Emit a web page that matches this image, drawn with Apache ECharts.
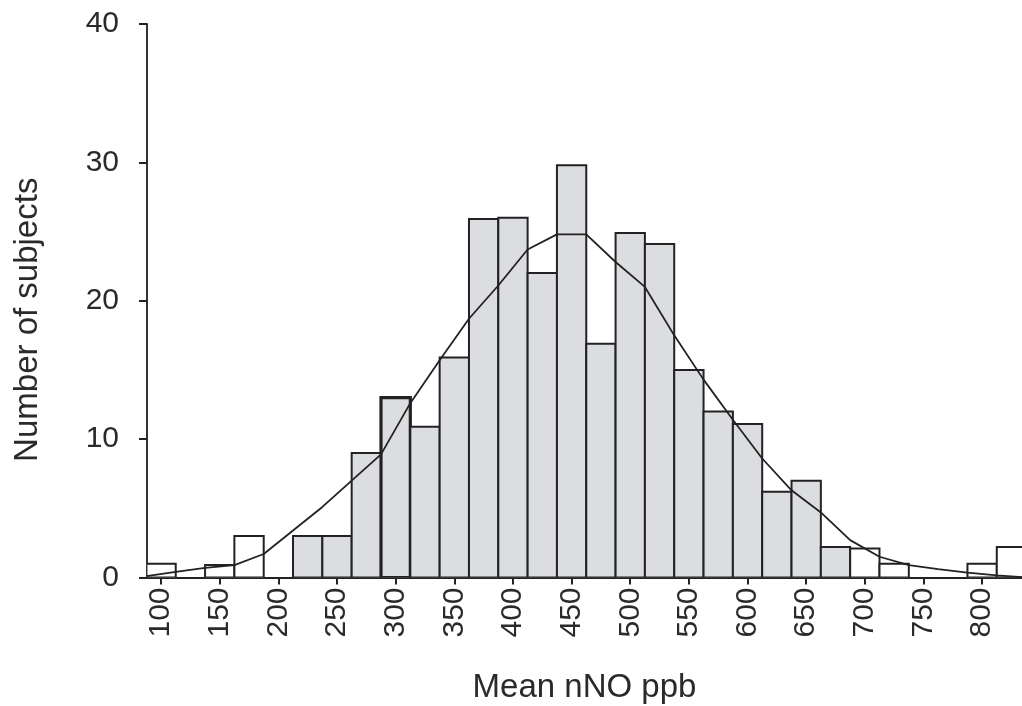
<!DOCTYPE html>
<html>
<head>
<meta charset="utf-8">
<script src="https://cdn.jsdelivr.net/npm/echarts@6/dist/echarts.min.js"></script>
<style>
  html, body { margin: 0; padding: 0; background: #fff; }
  #chart { width: 1022px; height: 706px; }
</style>
</head>
<body>
<div id="chart"></div>
<script>
// Histogram of mean nasal NO with a fitted distribution curve
const binWidth = 25;
const binCenters = [100, 125, 150, 175, 200, 225, 250, 275, 300, 325, 350, 375, 400, 425, 450,
                    475, 500, 525, 550, 575, 600, 625, 650, 675, 700, 725, 750, 775, 800, 825];
const subjectCounts = [1.0, 0, 0.9, 3.0, 0, 3.0, 3.0, 9.0, 13.0, 10.9, 15.9, 25.9, 26.0, 22.0, 29.8,
                       16.9, 24.9, 24.1, 15.0, 12.0, 11.1, 6.2, 7.0, 2.2, 2.1, 1.0, 0, 0, 1.0, 2.2];

// Fitted curve, sampled at the bin edges
const curveX = [87.5, 112.5, 137.5, 162.5, 187.5, 212.5, 237.5, 262.5, 287.5, 312.5, 337.5, 362.5,
                387.5, 412.5, 437.5, 462.5, 487.5, 512.5, 537.5, 562.5, 587.5, 612.5, 637.5, 662.5,
                687.5, 712.5, 737.5, 762.5, 787.5, 812.5, 837.5];
const curveY = [0.1, 0.4, 0.7, 0.9, 1.7, 3.4, 5.1, 7.0, 8.9, 12.6, 15.7, 18.7,
                21.1, 23.7, 24.8, 24.8, 22.8, 21.0, 17.5, 14.3, 11.4, 8.6, 6.3, 4.7,
                2.7, 1.5, 0.9, 0.6, 0.35, 0.15, 0.0];

const xTickValues = [100, 150, 200, 250, 300, 350, 400, 450, 500, 550, 600, 650, 700, 750, 800];
const yTickValues = [0, 10, 20, 30, 40];

// Bins drawn grey lie inside this range; the rest are left white
const shadedRange = [212.5, 687.5];
const emphasisedBin = 300;

const FONT = "'Liberation Sans', Arial, Helvetica, sans-serif";
const INK = '#222';
const TEXT = '#2a2a2a';

const chart = echarts.init(document.getElementById('chart'), null, { renderer: 'canvas' });

chart.setOption({
  backgroundColor: '#fff',
  animation: false,
  grid: { left: 147, right: 0, top: 24, bottom: 128.5, containLabel: false, outerBoundsMode: 'none' },
  xAxis: {
    type: 'value',
    min: 88,
    max: 834,
    name: 'Mean nNO ppb',
    nameLocation: 'middle',
    nameGap: 94,
    nameTextStyle: { fontFamily: FONT, fontSize: 33, color: TEXT },
    axisLine: { show: true, onZero: false, lineStyle: { color: INK, width: 2 } },
    axisTick: { show: true, length: 7, customValues: xTickValues, lineStyle: { color: INK, width: 2 } },
    axisLabel: {
      customValues: xTickValues,
      rotate: 90,
      margin: 10,
      fontFamily: FONT,
      fontSize: 30,
      color: TEXT
    },
    splitLine: { show: false }
  },
  yAxis: {
    type: 'value',
    min: 0,
    max: 40,
    interval: 10,
    name: 'Number of subjects',
    nameLocation: 'middle',
    nameGap: 103,
    nameTextStyle: { fontFamily: FONT, fontSize: 33, color: TEXT, padding: [0, 38, 0, 0] },
    axisLine: { show: true, lineStyle: { color: '#333', width: 2 } },
    axisTick: { show: true, length: 8, customValues: yTickValues, lineStyle: { color: INK, width: 2 } },
    axisLabel: {
      customValues: yTickValues,
      margin: 28,
      fontFamily: FONT,
      fontSize: 30,
      color: TEXT
    },
    splitLine: { show: false }
  },
  series: [
    {
      type: 'custom',
      clip: true,
      data: binCenters.map((c, i) => [c, subjectCounts[i]]),
      renderItem: function (params, api) {
        const center = api.value(0);
        const count = api.value(1);
        if (!count) return null;
        const topLeft = api.coord([center - binWidth / 2, count]);
        const bottomRight = api.coord([center + binWidth / 2, 0]);
        const shaded = center > shadedRange[0] && center < shadedRange[1];
        return {
          type: 'rect',
          shape: {
            x: topLeft[0],
            y: topLeft[1],
            width: bottomRight[0] - topLeft[0],
            height: bottomRight[1] - topLeft[1]
          },
          style: {
            fill: shaded ? '#dcdde0' : '#ffffff',
            stroke: INK,
            lineWidth: center === emphasisedBin ? 3.2 : 2
          }
        };
      },
      z: 2
    },
    {
      type: 'line',
      data: curveX.map((x, i) => [x, curveY[i]]),
      showSymbol: false,
      symbol: 'none',
      smooth: false,
      clip: true,
      lineStyle: { color: INK, width: 1.8 },
      z: 3
    }
  ]
});
</script>
</body>
</html>
